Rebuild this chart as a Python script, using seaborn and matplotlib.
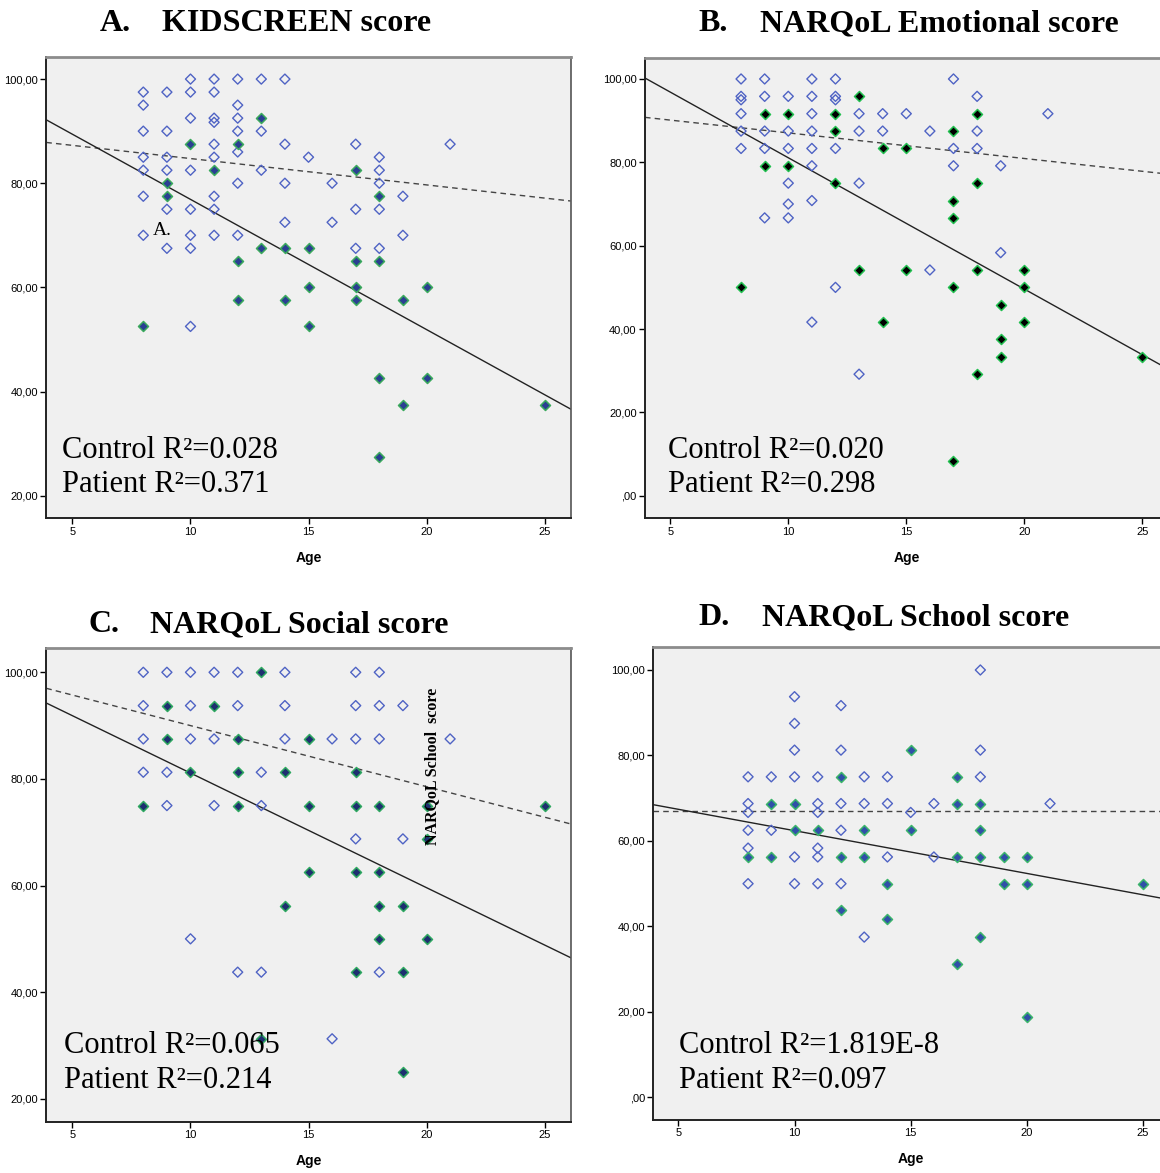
import numpy as np
import pandas as pd
import matplotlib
matplotlib.use('Agg')
import matplotlib.pyplot as plt
import seaborn as sns
from matplotlib.ticker import FuncFormatter

# Dados (idade -> escores)

# A. KIDSCREEN
a_ctrl = {8: [97.5, 95, 90, 85, 82.5, 77.5, 70], 9: [97.5, 90, 85, 82.5, 75, 67.5],
          10: [100, 97.5, 92.5, 82.5, 75, 70, 67.5, 52.5], 11: [100, 97.5, 92.5, 91.7, 87.5, 85, 77.5, 75, 70],
          12: [100, 95, 92.5, 90, 86, 80, 70], 13: [100, 90, 82.5], 14: [100, 87.5, 80, 72.5],
          15: [85], 16: [80, 72.5], 17: [87.5, 75, 67.5], 18: [85, 82.5, 80, 75, 67.5],
          19: [77.5, 70], 21: [87.5]}
a_pat = {8: [52.5], 9: [80, 77.5], 10: [87.5], 11: [82.5], 12: [87.5, 65, 57.5], 13: [92.5, 67.5],
         14: [67.5, 57.5], 15: [67.5, 60, 52.5], 17: [82.5, 65, 60, 57.5], 18: [77.5, 65, 42.5, 27.5],
         19: [57.5, 37.5], 20: [60, 42.5], 25: [37.5]}

# B. NARQoL Emotional
b_ctrl = {8: [100, 95.83, 95, 91.67, 87.5, 83.33], 9: [100, 95.83, 87.5, 83.33, 66.67],
          10: [95.83, 87.5, 83.33, 75, 70, 66.67], 11: [100, 95.83, 91.67, 87.5, 83.33, 79.17, 70.83, 41.67],
          12: [100, 95.83, 95, 83.33, 50], 13: [91.67, 87.5, 75, 29.17], 14: [91.67, 87.5],
          15: [91.67], 16: [87.5, 54.17], 17: [100, 83.33, 79.17], 18: [95.83, 87.5, 83.33],
          19: [79.17, 58.33], 21: [91.67]}
b_pat = {8: [50], 9: [91.67, 79.17], 10: [91.67, 79.17], 12: [91.67, 87.5, 75], 13: [95.83, 54.17],
         14: [83.33, 41.67], 15: [83.33, 54.17], 17: [87.5, 70.83, 66.67, 50, 8.33],
         18: [91.67, 75, 54.17, 29.17], 19: [45.83, 37.5, 33.33], 20: [54.17, 50, 41.67], 25: [33.33]}

# C. NARQoL Social
c_ctrl = {8: [100, 93.75, 87.5, 81.25], 9: [100, 81.25, 75], 10: [100, 93.75, 87.5, 50],
          11: [100, 87.5, 75], 12: [100, 93.75, 43.75], 13: [81.25, 75, 43.75], 14: [100, 93.75, 87.5],
          16: [87.5, 31.25], 17: [100, 93.75, 87.5, 68.75], 18: [100, 93.75, 87.5, 43.75],
          19: [93.75, 68.75], 21: [87.5]}
c_pat = {8: [75], 9: [93.75, 87.5], 10: [81.25], 11: [93.75], 12: [87.5, 81.25, 75], 13: [100, 31.25],
         14: [81.25, 56.25], 15: [87.5, 75, 62.5], 17: [81.25, 75, 62.5, 43.75],
         18: [75, 62.5, 56.25, 50], 19: [56.25, 43.75, 25], 20: [75, 68.75, 50], 25: [75]}

# D. NARQoL School
d_ctrl = {8: [75, 68.75, 66.67, 62.5, 58.33, 50], 9: [75, 62.5], 10: [93.75, 87.5, 81.25, 75, 56.25, 50],
          11: [75, 68.75, 66.67, 58.33, 56.25, 50], 12: [91.67, 81.25, 68.75, 62.5, 50],
          13: [75, 68.75, 37.5], 14: [75, 68.75, 56.25], 15: [66.67], 16: [68.75, 56.25],
          18: [100, 81.25, 75], 21: [68.75]}
d_pat = {8: [56.25], 9: [68.75, 56.25], 10: [68.75, 62.5], 11: [62.5], 12: [75, 56.25, 43.75],
         13: [62.5, 56.25], 14: [50, 41.67], 15: [81.25, 62.5], 17: [75, 68.75, 56.25, 31.25],
         18: [68.75, 62.5, 56.25, 37.5], 19: [56.25, 50], 20: [56.25, 50, 18.75], 25: [50]}

# Retas de regressão (intercepto, inclinação)
a_fit_ctrl, a_fit_pat = (89.8, -0.506), (101.9, -2.5)
b_fit_ctrl, b_fit_pat = (93.2, -0.614), (112.6, -3.15)
c_fit_ctrl, c_fit_pat = (101.45, -1.145), (102.6, -2.15)
d_fit_ctrl, d_fit_pat = (67.1, 0.0), (72.4, -1.0)

# R2
a_r2 = ('0.028', '0.371')
b_r2 = ('0.020', '0.298')
c_r2 = ('0.065', '0.214')
d_r2 = ('1.819E-8', '0.097')

titulos = ['KIDSCREEN score', 'NARQoL Emotional score', 'NARQoL Social score', 'NARQoL School score']
letras = ['A.', 'B.', 'C.', 'D.']
x_ticks = [5, 10, 15, 20, 25]


def to_df(d):
    rows = [(k, v) for k, vals in d.items() for v in vals]
    return pd.DataFrame(rows, columns=['age', 'score'])


def fmt(v, pos):
    if v == 0:
        return ',00'
    return f'{v:.2f}'.replace('.', ',')


plt.rcParams['font.family'] = ['Liberation Sans', 'DejaVu Sans']

W, H = 1160, 1173
fig = plt.figure(figsize=(W / 100, H / 100), dpi=100)


def box(l, t, r, b):
    return [l / W, 1 - b / H, (r - l) / W, (b - t) / H]


paineis = [
    dict(pos=box(46.3, 56.7, 570.7, 518.3), xlim=(3.89, 26.11), ylim=(15.65, 104.3), yt=[20, 40, 60, 80, 100],
         ctrl=a_ctrl, pat=a_pat, fc=a_fit_ctrl, fp=a_fit_pat, r2=a_r2, face='#2a3f92', edge='#3aaa5c',
         txt=(0.030, 0.130, 0.058)),
    dict(pos=box(645, 57.7, 1168.5, 518.3), xlim=(3.93, 26.11), ylim=(-5.4, 105.1), yt=[0, 20, 40, 60, 80, 100],
         ctrl=b_ctrl, pat=b_pat, fc=b_fit_ctrl, fp=b_fit_pat, r2=b_r2, face='#000000', edge='#22c050',
         txt=(0.0446, 0.130, 0.058)),
    dict(pos=box(46.3, 648.3, 570.7, 1121.7), xlim=(3.89, 26.11), ylim=(15.7, 104.5), yt=[20, 40, 60, 80, 100],
         ctrl=c_ctrl, pat=c_pat, fc=c_fit_ctrl, fp=c_fit_pat, r2=c_r2, face='#1e2f70', edge='#2ea860',
         txt=(0.033, 0.1445, 0.0706)),
    dict(pos=box(653.3, 646.7, 1168.5, 1120), xlim=(3.92, 26.1), ylim=(-5.3, 105.45), yt=[0, 20, 40, 60, 80, 100],
         ctrl=d_ctrl, pat=d_pat, fc=d_fit_ctrl, fp=d_fit_pat, r2=d_r2, face='#3050a8', edge='#3ab46a',
         txt=(0.049, 0.1408, 0.0668)),
]

for p in paineis:
    ax = fig.add_axes(p['pos'])
    ax.set_facecolor('#f0f0f0')
    ctrl = to_df(p['ctrl'])
    pat = to_df(p['pat'])
    sns.scatterplot(data=ctrl, x='age', y='score', marker='D', s=26, color='#4f63c4',
                    facecolor='none', edgecolor='#4f63c4', linewidth=1.0, ax=ax, zorder=3)
    sns.scatterplot(data=pat, x='age', y='score', marker='D', s=26, color=p['face'],
                    facecolor=p['face'], edgecolor=p['edge'], linewidth=1.1, ax=ax, zorder=3)
    ax.axline((0, p['fc'][0]), slope=p['fc'][1], color='#444444', lw=1.0, ls=(0, (4, 3)), zorder=2)
    ax.axline((0, p['fp'][0]), slope=p['fp'][1], color='#222222', lw=1.0, zorder=2)
    ax.set_xlim(*p['xlim'])
    ax.set_ylim(*p['ylim'])
    ax.set_xticks(x_ticks)
    ax.set_yticks(p['yt'])
    ax.yaxis.set_major_formatter(FuncFormatter(fmt))
    ax.tick_params(labelsize=8, length=4, width=1, direction='out', pad=2)
    ax.set_xlabel('Age', fontsize=10, fontweight='bold', labelpad=10)
    ax.set_ylabel('')
    for s in ['left', 'bottom']:
        ax.spines[s].set_color('#222222')
        ax.spines[s].set_linewidth(1.4)
    ax.spines['top'].set_color('#8c8c8c')
    ax.spines['top'].set_linewidth(2)
    ax.spines['right'].set_color('#555555')
    ax.spines['right'].set_linewidth(1.2)
    tx, ty1, ty2 = p['txt']
    ax.text(tx, ty1, 'Control R\u00b2=' + p['r2'][0], transform=ax.transAxes, fontsize=22,
            family='Liberation Serif', va='baseline', ha='left')
    ax.text(tx, ty2, 'Patient R\u00b2=' + p['r2'][1], transform=ax.transAxes, fontsize=22,
            family='Liberation Serif', va='baseline', ha='left')
    p['ax'] = ax

# textos soltos que aparecem na figura original
paineis[0]['ax'].text(0.203, 0.623, 'A.', transform=paineis[0]['ax'].transAxes, fontsize=14,
                      family='Liberation Serif', va='center', ha='left')
paineis[2]['ax'].text(0.736, 0.75, 'NARQoL School  score', transform=paineis[2]['ax'].transAxes,
                      fontsize=11.5, family='Liberation Serif', fontweight='bold', rotation=90,
                      va='center', ha='center')

# titulos
pos_tit = [(100, 162, 31), (698, 760, 31), (88, 150, 632), (698, 762, 625)]
for (x1, x2, yb), letra, tit in zip(pos_tit, letras, titulos):
    fig.text(x1 / W, 1 - yb / H, letra, fontsize=23, fontweight='bold', family='Liberation Serif',
             va='baseline', ha='left')
    fig.text(x2 / W, 1 - yb / H, tit, fontsize=23, fontweight='bold', family='Liberation Serif',
             va='baseline', ha='left')

fig.savefig('out.png', dpi=100)
